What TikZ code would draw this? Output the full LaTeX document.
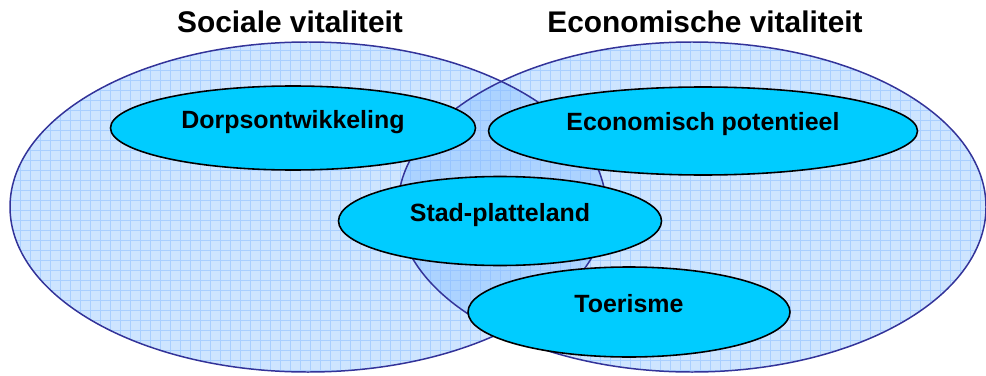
\documentclass[tikz,border=0pt]{standalone}
\usepackage{fontspec}
\setmainfont{Liberation Sans}
\usetikzlibrary{shapes.geometric}
\definecolor{vlak}{RGB}{102,174,255}
\definecolor{raster}{RGB}{150,196,255}
\definecolor{rand}{RGB}{51,51,153}
\definecolor{thema}{RGB}{0,204,255}
\begin{document}
\begin{tikzpicture}[x=0.02cm,y=-0.02cm]
	% size of each unit (one pixel)
	\def\u{0.02cm}
	\def\ry{165}
	% style definition
	\tikzstyle{field} = [fill=vlak, fill opacity=0.32];
	\tikzstyle{gridline} = [draw=raster, line width=0.35pt, step=0.2cm, opacity=0.65];
	\tikzstyle{border} = [draw=rand, line width=0.85pt];
	\tikzstyle{topic} = [draw, fill=thema, ellipse, line width=0.9pt, inner sep=0pt,
		font=\bfseries\fontsize{14.2}{16}\selectfont, text height=0.32cm, text depth=0.32cm];
	\tikzstyle{title} = [font=\bfseries\fontsize{17}{20}\selectfont];
	\useasboundingbox (0,0) rectangle (986,375);
	% the two large fields
	\fill[field] (308,207) ellipse [x radius=298, y radius=\ry];
	\fill[field] (692,207) ellipse [x radius=294, y radius=\ry];
	\begin{scope}
		\clip (308,207) ellipse [x radius=298, y radius=\ry];
		\draw[gridline] (0,0) grid (986,380);
	\end{scope}
	\begin{scope}
		\clip (692,207) ellipse [x radius=294, y radius=\ry];
		\draw[gridline] (0,0) grid (986,380);
	\end{scope}
	\draw[border] (308,207) ellipse [x radius=298, y radius=\ry];
	\draw[border] (692,207) ellipse [x radius=294, y radius=\ry];
	% titles
	\node[title] (sociaal) at (290,22) {Sociale vitaliteit};
	\node[title] (economisch) at (705,22) {Economische vitaliteit};
	% topics
	\node[topic, minimum width=365*\u, minimum height=84*\u] (dorp) at (293,128) {Dorpsontwikkeling};
	\node[topic, minimum width=429*\u, minimum height=88*\u] (potentieel) at (703,131) {Economisch potentieel};
	\node[topic, minimum width=323*\u, minimum height=89*\u] (stad) at (500,221) {Stad-platteland};
	\node[topic, minimum width=322*\u, minimum height=90*\u] (toerisme) at (629,312) {Toerisme};
\end{tikzpicture}
\end{document}
